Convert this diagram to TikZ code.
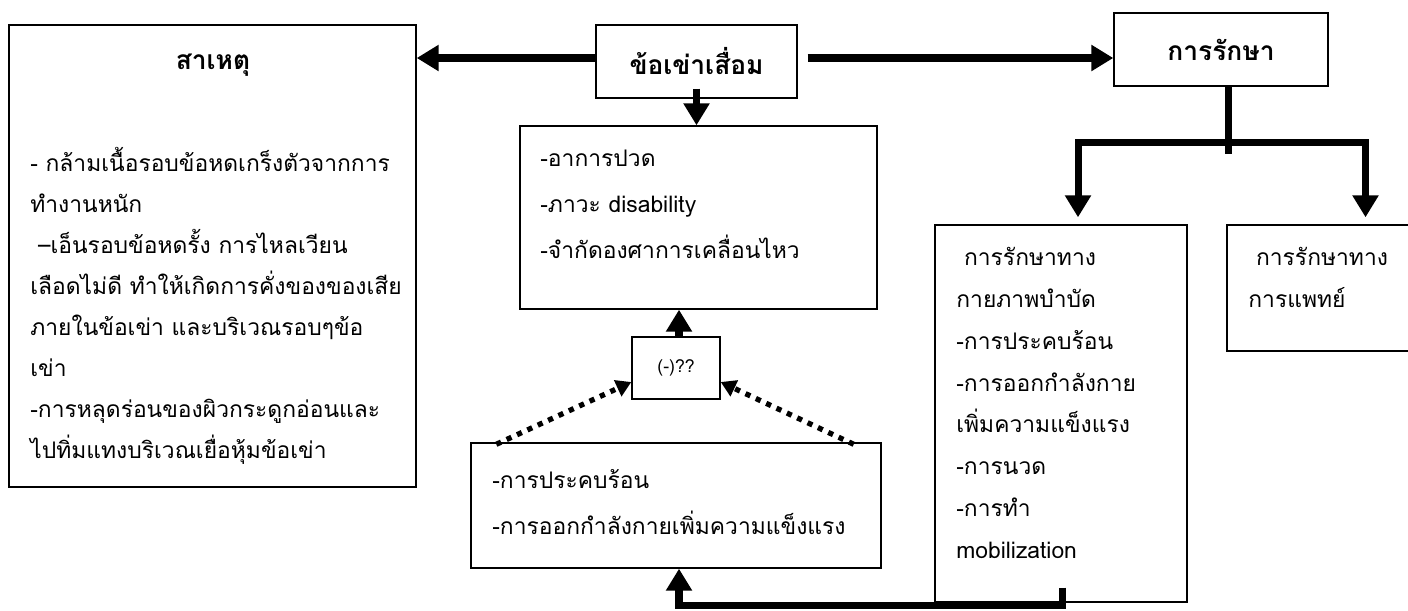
\documentclass[tikz,border=0pt]{standalone}
\usepackage{fontspec}
\usepackage{tikz}
\usetikzlibrary{calc, arrows.meta, positioning, fit}
\newfontfamily\thaifont[Script=Thai]{Loma}
\tikzstyle{box} =[draw, line width=0.8pt, inner sep=0pt]
\tikzstyle{txt} =[align=left, anchor=north west, inner sep=0pt, font=\thaifont\fontsize{13}{23}\selectfont]
\tikzstyle{head} =[font=\thaifont\bfseries\fontsize{15}{20}\selectfont]
\tikzstyle{bigarrow} =[line width=4pt, -{Triangle[length=0.44cm,width=0.5cm]}]
\tikzstyle{dotarrow} =[line width=3pt, dash pattern=on 3pt off 3.5pt, -{Triangle[length=0.3cm,width=0.34cm]}]

\begin{document}
\begin{tikzpicture}[x=0.02cm, y=-0.02cm]
        \useasboundingbox (0,0) rectangle (1408,610);

        %% Boxes
        \node[box, fit={(9,25) (416,487)}] (cause) {};
        \node[box, fit={(596,25) (797,98)}] (knee) {};
        \node[box, fit={(1114,13) (1328,86)}] (treat) {};
        \node[box, fit={(520,126) (877,309)}] (symp) {};
        \node[box, fit={(632,337) (720,399)}] (q) {};
        \node[box, fit={(471,443) (881,568)}] (heat) {};
        \node[box, fit={(935,225) (1187,602)}] (physio) {};
        \node[box, fit={(1227,225) (1420,351)}] (med) {};

        % Titles
        \draw (213,65) node[head] (causetitle) {สาเหตุ};
        \draw (knee.center) node[head] (kneetitle) {ข้อเข่าเสื่อม};
        \draw (treat.center) node[head] (treattitle) {การรักษา};
        \draw (q.center) node[font=\thaifont\fontsize{10}{12}\selectfont] (qtxt) {(-)??};

        %% Texts
        \draw (30,147) node[txt, font=\thaifont\fontsize{13}{23.3}\selectfont] (causetxt) {- กล้ามเนื้อรอบข้อหดเกร็งตัวจากการ\\ทำงานหนัก\\ \ –เอ็นรอบข้อหดรั้ง การไหลเวียน\\เลือดไม่ดี ทำให้เกิดการคั่งของของเสีย\\ภายในข้อเข่า และบริเวณรอบๆข้อ\\เข่า\\-การหลุดร่อนของผิวกระดูกอ่อนและ\\ไปทิ่มแทงบริเวณเยื่อหุ้มข้อเข่า};
        \draw (540,150) node[txt, font=\thaifont\fontsize{13}{26}\selectfont] (symptxt) {-อาการปวด\\-ภาวะ disability\\-จำกัดองศาการเคลื่อนไหว};
        \draw (492,469) node[txt, font=\thaifont\fontsize{13}{26}\selectfont] (heattxt) {-การประคบร้อน\\-การออกกำลังกายเพิ่มความแข็งแรง};
        \draw (956,247) node[txt, font=\thaifont\fontsize{13}{23.8}\selectfont] (physiotxt) {\ การรักษาทาง\\กายภาพบำบัด\\-การประคบร้อน\\-การออกกำลังกาย\\เพิ่มความแข็งแรง\\-การนวด\\-การทำ\\mobilization};
        \draw (1248,247) node[txt, font=\thaifont\fontsize{13}{23.8}\selectfont] (medtxt) {\ การรักษาทาง\\การแพทย์};

        %% Arrows
        \draw[bigarrow] (knee.west |- 0,58) -- (cause.east |- 0,58);
        \draw[bigarrow] ($(knee.east |- 0,58)+(10,0)$) -- (treat.west |- 0,58);
        \draw[bigarrow] ($(knee.south)+(0,-10)$) -- (symp.north -| knee.south);
        \draw[bigarrow] (q.north -| 679,0) -- (symp.south -| 679,0);

        % Branch
        \coordinate (fork) at ($(treat.south)+(7,56)$);
        \draw[line width=4pt] ($(treat.south)+(7,0)$) -- ($(fork)+(0,11)$);
        \draw[bigarrow] (fork) -| ($(physio.north)+(17,-7)$);
        \draw[bigarrow] (fork) -| ($(med.north)+(42,-7)$);

        % Back to heat box
        \draw[bigarrow] ($(physio.south)+(1,-15)$) -- ++(0,18) -| (heat.south -| 679,0);

        % Dotted
        \draw[dotarrow] ($(heat.north west)+(26,2)$) -- ($(q.west)+(0,14)$);
        \draw[dotarrow] ($(heat.north east)+(-28,2)$) -- ($(q.east)+(0,14)$);

    \end{tikzpicture}
\end{document}
